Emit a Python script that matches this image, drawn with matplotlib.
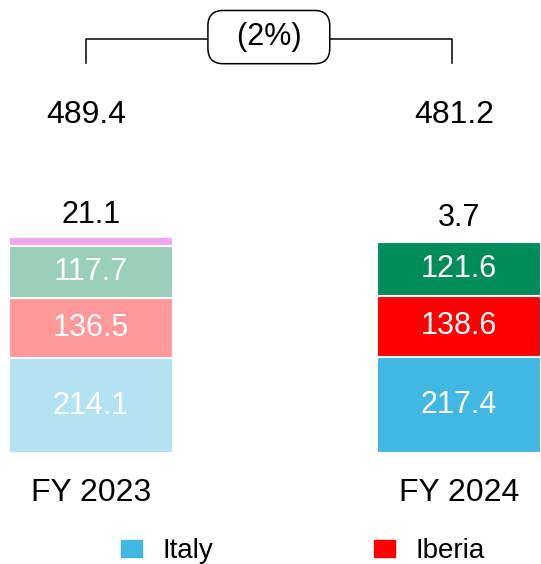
import numpy as np
import matplotlib
matplotlib.use("Agg")
import matplotlib.pyplot as plt
from matplotlib.patches import Patch

plt.rcParams['font.family'] = ['Liberation Sans', 'DejaVu Sans']

years = ['FY 2023', 'FY 2024']
italy = [214.1, 217.4]
iberia = [136.5, 138.6]
latam = [117.7, 121.6]
other = [21.1, 3.7]
totals = [489.4, 481.2]
change_label = '(2%)'

colors_2023 = ['#B3E2F3', '#FF9999', '#99CFBB', '#F3A6F0']
colors_2024 = ['#41B8E4', '#FF0000', '#008C5A', '#C5C5C5']

fig = plt.figure(figsize=(5.41, 5.64), dpi=100)
ax = fig.add_axes([0, 0, 1, 1])
ax.set_xlim(-0.247, 1.223)
ax.set_ylim(-251.1, 1024.9)
ax.axis('off')

x = np.arange(len(years))
w = 0.446
series = [italy, iberia, latam, other]
bottom = np.zeros(len(years))
for i, vals in enumerate(series):
    cols = [colors_2023[i], colors_2024[i]]
    ax.bar(x, vals, w, bottom=bottom, color=cols, edgecolor='white', linewidth=1.5)
    if i < 3:
        for xi, b, v in zip(x, bottom, vals):
            ax.text(xi, b + v / 2, f'{v:.1f}', ha='center', va='center',
                    color='white', fontsize=22)
    else:
        for xi, b, v in zip(x, bottom, vals):
            ax.annotate(f'{v:.1f}', (xi, b + v), xytext=(0, 5), textcoords='offset points',
                        ha='center', va='bottom', fontsize=22)
    bottom += np.array(vals)

# totals
for xi, t in zip(x, totals):
    ax.text(xi - 0.014, 765, f'{t:.1f}', ha='center', va='center', fontsize=23)

# category labels
for xi, yl in zip(x, years):
    ax.text(xi, -90.5, yl, ha='center', va='center', fontsize=23)

# bracket with change
xl, xr = x[0] - 0.014, x[1] - 0.019
ax.plot([xl, xl, xr, xr], [882, 937, 937, 882], color='black', lw=1.1)
ax.text((xl + xr) / 2, 941, '  ' + change_label + '  ', ha='center', va='center', fontsize=22,
        bbox=dict(boxstyle='round,pad=0.38,rounding_size=0.5', fc='white', ec='black', lw=1.1))

handles = [Patch(color=colors_2024[0], label='Italy'), Patch(color=colors_2024[1], label='Iberia')]
fig.legend(handles=handles, loc='center', bbox_to_anchor=(303 / 541, 13 / 564), ncol=2,
           frameon=False, fontsize=20, handlelength=0.74, handleheight=0.58,
           handletextpad=0.74, columnspacing=5.8)

fig.savefig('out.png', dpi=100)
